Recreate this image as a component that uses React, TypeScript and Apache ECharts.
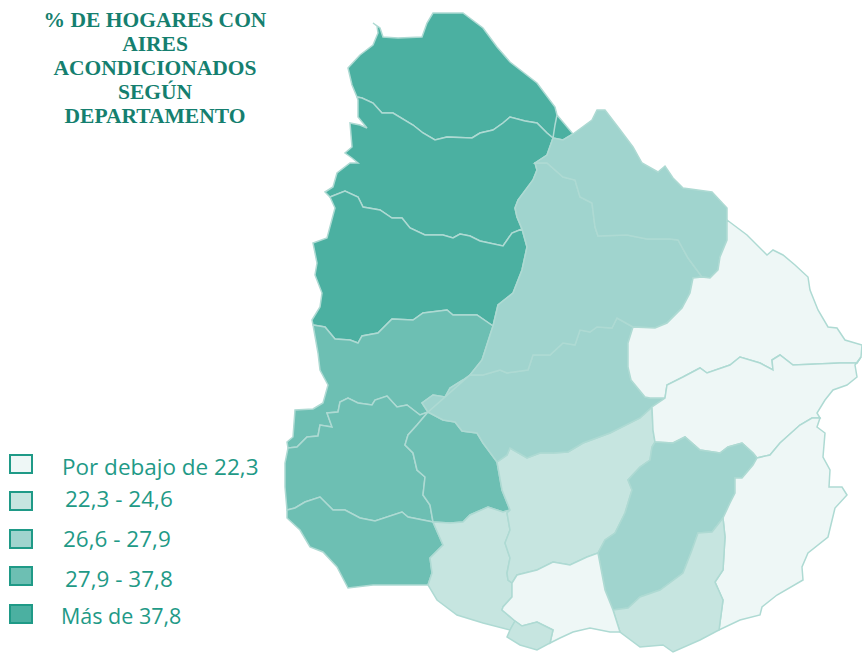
import React, { useEffect, useRef } from "react";
import * as echarts from "echarts";

// ---------- Content ----------
const titleLines = ["% DE HOGARES CON", "AIRES", "ACONDICIONADOS", "SEGÚN", "DEPARTAMENTO"];
const classLabels = ["Por debajo de 22,3", "22,3 - 24,6", "26,6 - 27,9", "27,9 - 37,8", "Más de 37,8"];
const classColors = ["#EEF7F6", "#C6E5E0", "#A0D4CE", "#6DBFB3", "#4BB0A1"];
const departments = [
  "Artigas", "Salto", "Paysandú", "Río Negro", "Soriano", "Colonia", "Flores", "San José", "Florida",
  "Durazno", "Tacuarembó", "Rivera", "Cerro Largo", "Treinta y Tres", "Lavalleja", "Rocha", "Maldonado",
  "Canelones", "Montevideo",
];
const departmentClass = [4, 4, 4, 3, 3, 3, 3, 1, 1, 2, 2, 2, 0, 0, 2, 0, 1, 0, 1];

// ---------- Map outline: shared borders, traced in page pixels ----------
type Arc = number[][];
const r = (a: Arc): Arc => [...a].reverse();
const artigasOuter: Arc = [[357,97],[352,85],[348,68],[360,55],[373,45],[378,33],[377,26],[373,23],[380,28],[383,37],[398,38],[422,37],[427,23],[433,13],[463,13],[483,28],[497,47],[510,62],[537,83],[555,107],[557,115]];
const artigasSalto: Arc = [[357,97],[362,98],[373,103],[382,113],[393,113],[413,125],[423,133],[435,140],[447,137],[472,138],[480,133],[493,130],[503,123],[510,117],[525,121],[537,123],[547,133],[553,138]];
const saltoWest: Arc = [[357,97],[358,100],[358,117],[367,128],[360,125],[350,123],[352,147],[345,153],[352,158],[358,163],[350,163],[337,173],[333,187],[325,192],[330,197]];
const saltoPay: Arc = [[330,197],[345,191],[358,197],[363,207],[380,210],[392,218],[402,218],[410,228],[425,235],[443,235],[453,238],[460,234],[470,236],[480,241],[503,246],[512,233],[522,229]];
const saltoRivera: Arc = [[553,138],[547,155],[535,163]];
const saltoTac: Arc = [[535,163],[537,170],[533,180],[518,200],[515,208],[517,217],[522,229]];
const payWest: Arc = [[330,197],[335,208],[327,238],[313,243],[317,263],[315,275],[322,293],[320,307],[312,320],[313,325]];
const payRN: Arc = [[313,325],[325,327],[335,339],[350,340],[358,343],[362,336],[378,333],[392,319],[413,320],[423,313],[447,310],[453,315],[477,315],[493,326]];
const payTac: Arc = [[493,326],[498,305],[513,293],[522,270],[527,247],[522,229]];
const rnWest: Arc = [[313,325],[318,353],[320,370],[328,385],[323,403],[313,409],[295,410],[293,437],[287,442],[288,448]];
const rnSor: Arc = [[288,448],[297,447],[307,437],[318,436],[320,425],[332,427],[327,413],[338,412],[340,402],[348,398],[358,403],[372,405],[375,400],[387,396],[397,407],[407,405],[420,415],[428,412]];
const rnDur: Arc = [[428,412],[422,403],[433,395],[445,397],[450,388],[463,380],[470,375]];
const rnTac: Arc = [[470,375],[482,360],[493,326]];
const rivOuter: Arc = [[553,138],[563,140],[573,134],[592,120],[597,110],[605,110],[618,127],[633,147],[642,163],[658,172],[665,166],[673,178],[683,188],[712,192],[727,208],[727,220]];
const rivCL: Arc = [[727,220],[727,240],[720,257],[718,270],[710,278],[702,277]];
const rivTac: Arc = [[702,277],[688,258],[678,240],[670,239],[647,239],[627,235],[598,236],[595,227],[592,203],[580,197],[575,180],[563,177],[547,163],[535,163]];
const tacCL: Arc = [[702,277],[693,278],[690,293],[682,308],[667,323],[655,328],[633,327]];
const tacDur: Arc = [[633,327],[617,318],[612,328],[597,327],[590,332],[580,330],[575,345],[563,343],[550,355],[533,355],[528,370],[507,373],[500,370],[483,375],[470,375]];
const durCL: Arc = [[633,327],[628,343],[628,367],[631,380],[645,397],[650,398],[665,398]];
const durTT: Arc = [[665,398],[652,407]];
const durFlo: Arc = [[652,407],[640,418],[610,433],[583,443],[568,452],[553,453],[540,453],[527,458],[510,448],[507,455],[497,462]];
const durFlores: Arc = [[497,462],[483,443],[477,433],[462,431],[455,422],[443,420],[428,412]];
const clNorth: Arc = [[727,220],[747,235],[767,255],[773,250],[783,255],[795,265],[808,277],[810,290],[818,310],[828,327],[837,328],[845,340],[862,345],[861,357]];
const clTT: Arc = [[861,357],[857,363],[840,363],[793,365],[780,355],[772,360],[773,370],[760,363],[740,357],[730,365],[707,373],[700,368],[683,377],[667,385],[665,398]];
const ttEast: Arc = [[861,357],[855,365],[857,377],[847,385],[833,390],[825,400],[817,413],[820,418]];
const ttRocha: Arc = [[820,418],[812,418],[800,425],[780,443],[770,455],[757,458]];
const ttLav: Arc = [[757,458],[753,453],[742,443],[728,447],[720,453],[700,450],[685,437],[673,443],[655,442]];
const ttFlo: Arc = [[655,442],[653,430],[652,407]];
const lavRocha: Arc = [[757,458],[753,465],[742,478],[735,478],[735,493],[730,503],[723,518]];
const lavMal: Arc = [[723,518],[712,532],[698,533],[692,550],[683,573],[660,590],[640,597],[628,608],[613,610]];
const lavCan: Arc = [[613,610],[605,590],[598,553]];
const lavFlo: Arc = [[598,553],[605,540],[615,533],[625,513],[632,490],[628,480],[640,467],[650,460],[652,447],[655,442]];
const floCan: Arc = [[598,553],[587,557],[570,565],[553,562],[537,570],[517,575],[512,583]];
const floSJ: Arc = [[512,583],[508,580],[507,573],[510,558],[505,543],[510,530],[507,513],[510,510]];
const floFlores: Arc = [[510,510],[502,490],[497,462]];
const sjFlores: Arc = [[510,510],[503,512],[488,507],[470,515],[463,522],[450,523],[433,522]];
const sorFlores: Arc = [[433,522],[430,505],[423,495],[425,477],[417,470],[413,453],[405,445],[408,435],[417,425],[428,412]];
const sorCol: Arc = [[433,522],[408,517],[402,512],[375,521],[360,518],[345,510],[333,510],[320,497],[305,502],[295,508],[287,510]];
const sorWest: Arc = [[287,510],[285,487],[285,463],[288,448]];
const colSJ: Arc = [[433,522],[443,545],[430,558],[432,573],[428,585]];
const colCoast: Arc = [[428,585],[403,585],[373,585],[348,588],[337,567],[323,552],[310,547],[300,530],[287,518],[287,510]];
const sjCan: Arc = [[512,583],[512,597],[503,607],[502,610],[515,621]];
const sjCoast: Arc = [[515,621],[510,630],[483,623],[457,615],[437,600],[428,585]];
const canMvd: Arc = [[515,621],[522,626],[537,622],[553,630]];
const mvdCoast: Arc = [[550,643],[537,650],[520,645],[507,637],[510,630],[515,621]];
const canMal: Arc = [[613,610],[620,632]];
const canCoast: Arc = [[620,632],[610,632],[590,628],[573,632],[560,638],[550,643]];
const malRocha: Arc = [[723,518],[725,537],[723,570],[715,582],[723,600],[719,630]];
const malCoast: Arc = [[719,630],[700,640],[673,652],[663,645],[640,647],[620,632]];
const rochaCoast: Arc = [[820,418],[817,427],[825,433],[823,457],[830,470],[829,487],[842,487],[847,495],[835,508],[828,537],[808,553],[802,567],[803,580],[777,595],[762,607],[760,615],[740,620],[719,630]];
const artigasTip: Arc = [[557,115],[573,134],[563,140],[553,138],[555,125]];

const ring = (...arcs: Arc[]): Arc => {
  const c = arcs.flat();
  return [...c, c[0]];
};
const shapes: Record<string, Arc[]> = {
  Artigas: [ring(artigasOuter, [[555,125]], r(artigasSalto)), ring(artigasTip)],
  Salto: [ring(artigasSalto, saltoRivera, saltoTac, r(saltoPay), r(saltoWest))],
  "Paysandú": [ring(saltoPay, r(payTac), r(payRN), r(payWest))],
  "Río Negro": [ring(payRN, r(rnTac), r(rnDur), r(rnSor), r(rnWest))],
  Soriano: [ring(rnSor, r(sorFlores), sorCol, sorWest)],
  Colonia: [ring(r(sorCol), colSJ, colCoast)],
  Flores: [ring(r(durFlores), r(floFlores), sjFlores, sorFlores)],
  "San José": [ring(r(sjFlores), r(floSJ), sjCan, sjCoast, r(colSJ))],
  Florida: [ring(r(durFlo), r(ttFlo), r(lavFlo), floCan, floSJ, floFlores)],
  Durazno: [ring(r(tacDur), durCL, durTT, durFlo, durFlores, r(rnDur))],
  "Tacuarembó": [ring(r(rivTac), tacCL, tacDur, rnTac, payTac, r(saltoTac))],
  Rivera: [ring(rivOuter, rivCL, rivTac, r(saltoRivera))],
  "Cerro Largo": [ring(clNorth, clTT, r(durCL), r(tacCL), r(rivCL))],
  "Treinta y Tres": [ring(r(clTT), ttEast, ttRocha, ttLav, ttFlo, r(durTT))],
  Lavalleja: [ring(r(ttLav), lavRocha, lavMal, lavCan, lavFlo)],
  Rocha: [ring(r(lavRocha), r(ttRocha), rochaCoast, r(malRocha))],
  Maldonado: [ring(r(lavMal), malRocha, malCoast, r(canMal))],
  Canelones: [ring(r(floCan), r(lavCan), canMal, canCoast, [[553,630]], r(canMvd), r(sjCan))],
  Montevideo: [ring(canMvd, mvdCoast)],
};

const allPoints = Object.values(shapes).flat().flat();
const xs = allPoints.map((p) => p[0]);
const ys = allPoints.map((p) => p[1]);
const minX = Math.min(...xs), maxX = Math.max(...xs), minY = Math.min(...ys), maxY = Math.max(...ys);

const geoJson = {
  type: "FeatureCollection",
  features: Object.entries(shapes).map(([name, rings]) => ({
    type: "Feature",
    properties: { name },
    geometry: {
      type: "MultiPolygon",
      coordinates: rings.map((rg) => [rg.map(([x, y]) => [x, -y])]),
    },
  })),
};

const swatchTops = [455, 492, 530, 567, 605];
const labelLefts = [62, 65, 63, 65, 61];
const labelMiddles = [466, 498, 538, 578, 615];
const labelSizes = [22.5, 22.5, 22.5, 22.5, 21.5];
const FG = "#1F9A87";

export default function App() {
  const ref = useRef<HTMLDivElement>(null);
  useEffect(() => {
    echarts.registerMap("uruguay", geoJson as any);
    const chart = echarts.init(ref.current!, undefined, { renderer: "svg" });
    chart.setOption({
      animation: false,
      backgroundColor: "#ffffff",
      title: {
        text: titleLines.join("\n"),
        left: 155,
        top: 8,
        textAlign: "center",
        padding: 0,
        textStyle: {
          fontFamily: "Liberation Serif",
          fontWeight: "bold",
          fontSize: 21.5,
          lineHeight: 24,
          color: "#157F6F",
        },
      },
      visualMap: {
        show: false,
        type: "piecewise",
        seriesIndex: 0,
        pieces: classColors.map((color, i) => ({ value: i, color })),
      },
      series: [
        {
          type: "map",
          map: "uruguay",
          aspectScale: 1,
          roam: false,
          silent: true,
          left: minX,
          top: minY,
          width: maxX - minX,
          height: maxY - minY,
          label: { show: false },
          itemStyle: { borderColor: "#AEDAD3", borderWidth: 1.5 },
          data: departments.map((name, i) => ({ name, value: departmentClass[i] })),
        },
      ],
      graphic: classLabels.flatMap((label, i) => [
        {
          type: "rect",
          shape: { x: 10, y: swatchTops[i], width: 22, height: 18 },
          style: { fill: classColors[i], stroke: FG, lineWidth: 2 },
        },
        {
          type: "text",
          x: labelLefts[i],
          y: labelMiddles[i],
          style: {
            text: label,
            fill: FG,
            font: `${labelSizes[i]}px 'Open Sans'`,
            verticalAlign: "middle",
            align: "left",
          },
        },
      ]),
    });
    return () => chart.dispose();
  }, []);
  return <div ref={ref} style={{ position: "fixed", left: 0, top: 0, width: 862, height: 653 }} />;
}
